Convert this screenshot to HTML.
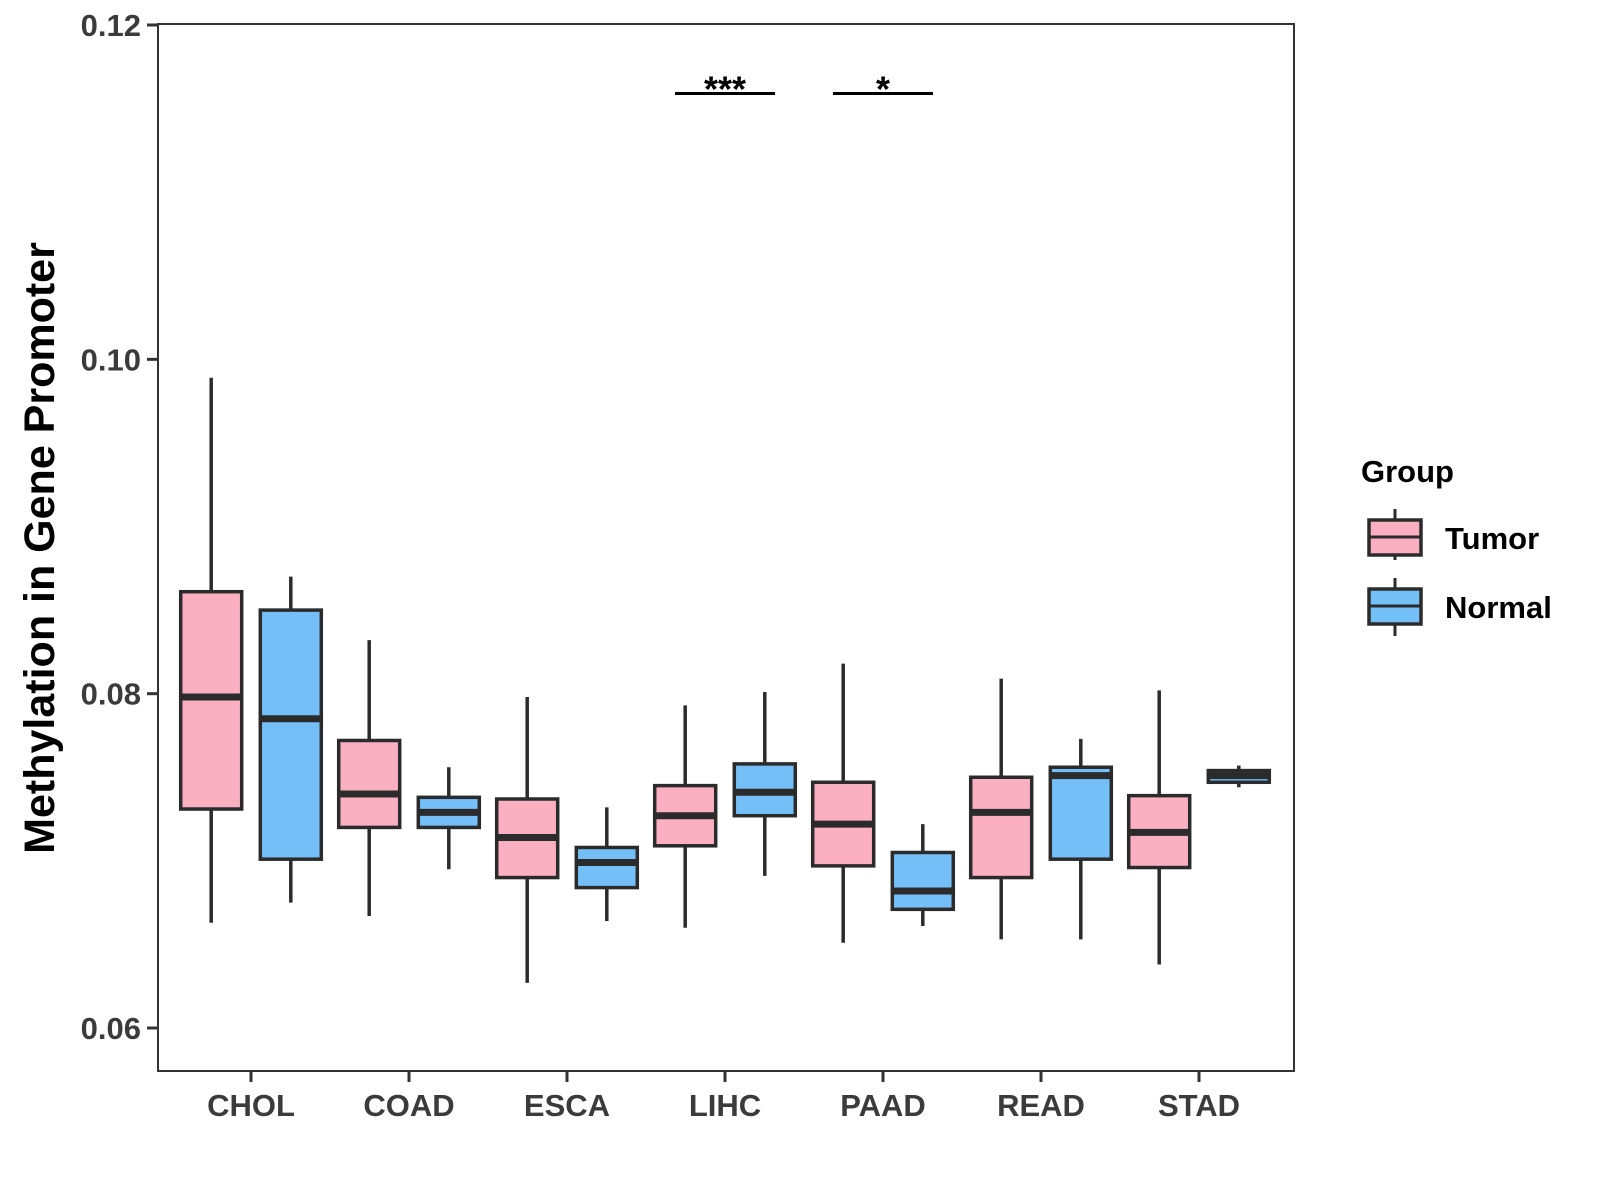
<!DOCTYPE html>
<html><head><meta charset="utf-8"><style>
html,body{margin:0;padding:0;background:#fff;}
svg{display:block;font-family:"Liberation Sans",Arial,sans-serif;}
</style></head><body>
<svg id="chart" width="1600" height="1200" viewBox="0 0 1600 1200">
<rect x="0" y="0" width="1600" height="1200" fill="#fff"/>
<g id="marks"></g>
<rect x="158" y="24" width="1136" height="1047" fill="none" stroke="#333" stroke-width="2"/>
<g id="axes"></g>
<text transform="translate(54,548) rotate(-90)" text-anchor="middle" font-size="43" font-weight="bold" fill="#000">Methylation in Gene Promoter</text>
<g>
<text x="1361" y="482" font-size="31" font-weight="bold" fill="#000">Group</text>
<g>
<line x1="1395" y1="509" x2="1395" y2="560" stroke="#2b2b2b" stroke-width="3"/>
<rect x="1369" y="520" width="52" height="35" fill="#fbb0c1" stroke="#2b2b2b" stroke-width="3.5"/>
<line x1="1369" y1="537" x2="1421" y2="537" stroke="#2b2b2b" stroke-width="3"/>
<text x="1445" y="549" font-size="31" font-weight="bold" fill="#000">Tumor</text>
</g>
<g>
<line x1="1395" y1="578" x2="1395" y2="636" stroke="#2b2b2b" stroke-width="3"/>
<rect x="1369" y="589" width="52" height="35" fill="#74bff7" stroke="#2b2b2b" stroke-width="3.5"/>
<line x1="1369" y1="606" x2="1421" y2="606" stroke="#2b2b2b" stroke-width="3"/>
<text x="1445" y="618" font-size="31" font-weight="bold" fill="#000">Normal</text>
</g>
</g>
</svg>
<script>
const categories = ["CHOL","COAD","ESCA","LIHC","PAAD","READ","STAD"];
// [whiskerHigh, Q3, median, Q1, whiskerLow]
const tumorStats = [
 [0.0989,0.0861,0.0798,0.0731,0.0663],
 [0.0832,0.0772,0.0740,0.0720,0.0667],
 [0.0798,0.0737,0.0714,0.0690,0.0627],
 [0.0793,0.0745,0.0727,0.0709,0.0660],
 [0.0818,0.0747,0.0722,0.0697,0.0651],
 [0.0809,0.0750,0.0729,0.0690,0.0653],
 [0.0802,0.0739,0.0717,0.0696,0.0638]
];
const normalStats = [
 [0.0870,0.0850,0.0785,0.0701,0.0675],
 [0.0756,0.0738,0.0729,0.0720,0.0695],
 [0.0732,0.0708,0.0699,0.0684,0.0664],
 [0.0801,0.0758,0.0741,0.0727,0.0691],
 [0.0722,0.0705,0.0682,0.0671,0.0661],
 [0.0773,0.0756,0.0751,0.0701,0.0653],
 [0.0757,0.0754,0.0751,0.0747,0.0744]
];
const yTicks = [0.06,0.08,0.10,0.12];
const yTickLabels = ["0.06","0.08","0.10","0.12"];
const sigCategories = ["LIHC","PAAD"];
const sigLabels = ["***","*"];
const sigLevel = 0.1159;

const NS="http://www.w3.org/2000/svg";
function yScale(v){ return 25 + (0.12 - v) * 16717; }
function xScale(i){ return 251 + i * 158; }
const dodge = 39.8, bw = 61;
function mk(tag, attrs, parent){ const e=document.createElementNS(NS,tag); for(const k in attrs) e.setAttribute(k,attrs[k]); parent.appendChild(e); return e; }
const marks=document.getElementById('marks');
const axes=document.getElementById('axes');
function drawBox(s, cx, fill, name){
  const g=mk('g',{},marks);
  
  
  mk('line',{x1:cx,x2:cx,y1:yScale(s[0]),y2:yScale(s[4]),stroke:'#2b2b2b','stroke-width':3.5},g);
  mk('rect',{x:cx-bw/2,y:yScale(s[1]),width:bw,height:Math.max(yScale(s[3])-yScale(s[1]),1),fill:fill,stroke:'#2b2b2b','stroke-width':3.5},g);
  mk('line',{x1:cx-bw/2,x2:cx+bw/2,y1:yScale(s[2]),y2:yScale(s[2]),stroke:'#2b2b2b','stroke-width':7},g);
}
categories.forEach((c,i)=>{
  drawBox(tumorStats[i], xScale(i)-dodge, '#fbb0c1', 'box-tumor-'+c.toLowerCase());
  drawBox(normalStats[i], xScale(i)+dodge, '#74bff7', 'box-normal-'+c.toLowerCase());
  const t=mk('line',{x1:xScale(i),x2:xScale(i),y1:1071,y2:1082,stroke:'#333','stroke-width':3},axes);
  
  
  const l=mk('text',{x:xScale(i),y:1116,'text-anchor':'middle','font-size':31,'font-weight':'bold',fill:'#3b3b3b'},axes);
  l.textContent=c;
  
  
});
yTicks.forEach((v,i)=>{
  const t=mk('line',{x1:147,x2:158,y1:yScale(v),y2:yScale(v),stroke:'#333','stroke-width':3},axes);
  
  
  const l=mk('text',{x:141,y:yScale(v)+11,'text-anchor':'end','font-size':31,'font-weight':'bold',fill:'#3b3b3b'},axes);
  l.textContent=yTickLabels[i];
  
  
});
sigCategories.forEach((c,k)=>{
  const i=categories.indexOf(c);
  const y=yScale(sigLevel);
  const ln=mk('line',{x1:xScale(i)-50,x2:xScale(i)+50,y1:y,y2:y,stroke:'#000','stroke-width':3},marks);
  
  
  const tx=mk('text',{x:xScale(i),y:y+8,'text-anchor':'middle','font-size':36,'font-weight':'bold',fill:'#000'},marks);
  tx.textContent=sigLabels[k];
  
  
});
</script>
</body></html>
